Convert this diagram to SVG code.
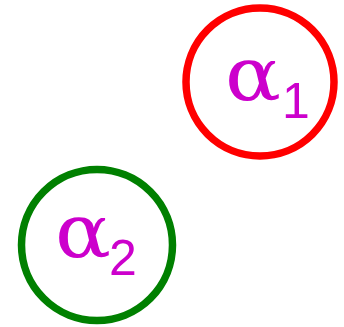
<svg xmlns="http://www.w3.org/2000/svg" width="344" height="327" viewBox="0 0 344 327">
<style>
.c{fill:#fff;stroke-width:7.5}
.a{font-family:"DejaVu Serif",serif;font-size:74px;fill:#CC00CC}
.s{font-family:"Liberation Sans",sans-serif;font-size:50px;fill:#CC00CC}
</style>
<rect width="344" height="327" fill="#fff"/>
<g id="alpha1">
<circle class="c" cx="260" cy="82" r="74" stroke="#FF0000"/>
<text class="a" transform="translate(225,100) scale(1.12,1)">α</text>
<text class="s" x="282" y="118">1</text>
</g>
<g id="alpha2">
<circle class="c" cx="97" cy="245" r="75.5" stroke="#008000"/>
<text class="a" transform="translate(55,257) scale(1.12,1)">α</text>
<text class="s" x="109" y="275">2</text>
</g>
<g id="connectors"></g>
</svg>
